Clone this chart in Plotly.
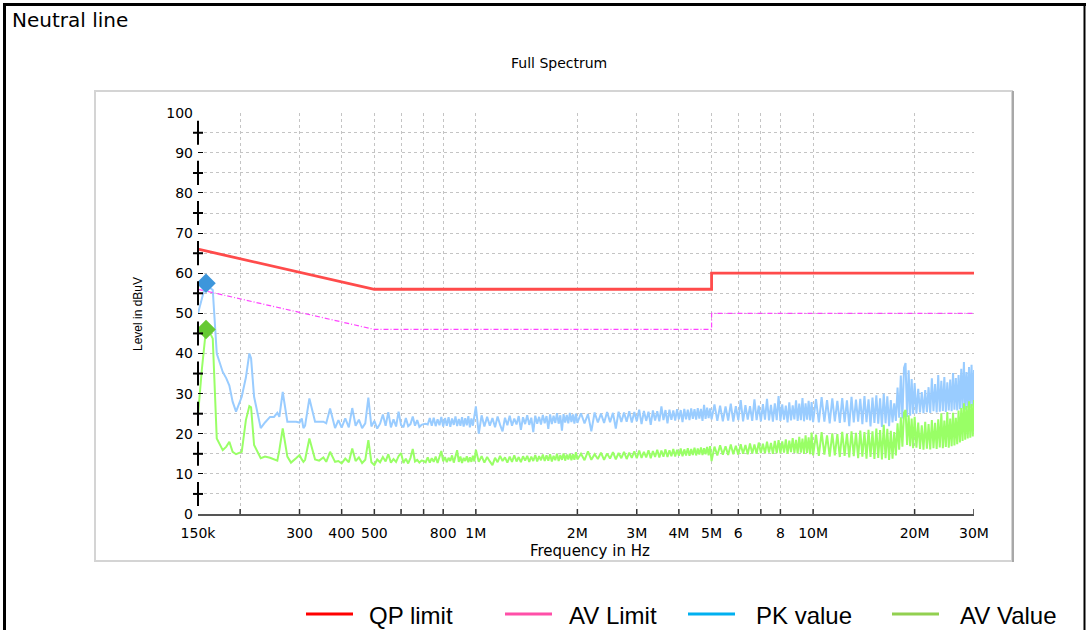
import plotly.graph_objects as go

# ---------------- data ----------------
# frequency points in MHz, readings in dBuV
freq_low = [0.150, 0.154, 0.1584, 0.162, 0.1659, 0.1705, 0.1776, 0.182, 0.1858, 0.190,
            0.1945, 0.2022, 0.208, 0.213, 0.2155, 0.220, 0.2302, 0.237, 0.2453, 0.252,
            0.2578, 0.2614, 0.2675, 0.2761, 0.283, 0.293, 0.300, 0.3047, 0.3081, 0.3116,
            0.3209, 0.3336, 0.343, 0.3531, 0.360, 0.3696, 0.3824, 0.3912]
pk_low = [50.0, 54.0, 57.5, 56.5, 55.8, 40.0, 35.4, 33.8, 32.0, 28.0,
          25.5, 29.2, 34.0, 40.0, 38.8, 29.2, 21.4, 22.8, 24.2, 24.2,
          25.2, 24.2, 30.4, 23.0, 23.0, 23.0, 22.8, 23.8, 21.4, 22.0,
          28.8, 23.0, 23.0, 23.0, 22.6, 26.3, 21.4, 23.4]
av_low = [24.6, 36.0, 46.0, 45.5, 43.7, 18.8, 15.9, 16.8, 18.0, 15.5,
          14.9, 15.5, 23.4, 26.9, 26.6, 17.2, 13.9, 14.3, 14.0, 13.6,
          13.3, 15.9, 21.3, 14.3, 12.8, 13.9, 14.7, 13.6, 13.0, 13.5,
          18.8, 13.6, 13.3, 14.1, 13.0, 15.5, 13.0, 13.2]

freq_a = [0.40, 0.41, 0.42, 0.43, 0.44, 0.45, 0.46, 0.47, 0.48, 0.49,
          0.50, 0.51, 0.52, 0.53, 0.54, 0.55, 0.56, 0.57, 0.58, 0.59,
          0.60, 0.61, 0.62, 0.63, 0.64, 0.65, 0.66, 0.67, 0.68, 0.69,
          0.70, 0.71, 0.72, 0.73, 0.74, 0.75, 0.76, 0.77, 0.78, 0.79,
          0.80, 0.81, 0.82, 0.83, 0.84, 0.85, 0.86, 0.87, 0.88, 0.89,
          0.90, 0.91, 0.92, 0.93, 0.94, 0.95, 0.96, 0.97, 0.98, 0.99, 1.00]
pk_a = [21.5, 23.8, 21.6, 26.4, 22.0, 23.5, 21.4, 22.6, 29.0, 21.8,
        23.2, 21.3, 22.5, 24.8, 22.0, 25.4, 21.6, 23.6, 21.8, 25.5,
        22.2, 21.6, 23.9, 21.9, 22.4, 24.3, 22.0, 23.4, 21.7, 22.2,
        22.4, 22.5, 22.3, 23.9, 22.0, 24.0, 21.9, 23.6, 22.1, 24.2,
        21.8, 23.9, 22.0, 24.1, 21.7, 23.8, 22.2, 24.3, 21.9, 23.7,
        22.0, 24.1, 21.8, 23.9, 22.1, 24.4, 21.6, 23.8, 22.0, 24.0, 26.8]
av_a = [12.6, 13.8, 12.9, 16.3, 13.2, 14.1, 12.7, 13.5, 18.4, 12.9,
        12.2, 13.6, 12.9, 14.2, 13.1, 14.9, 12.8, 13.7, 13.0, 14.4,
        15.2, 12.7, 13.8, 12.6, 14.0, 16.2, 13.1, 13.5, 12.8, 13.3,
        13.2, 12.9, 14.1, 12.8, 13.9, 13.0, 14.3, 12.7, 14.0, 15.7,
        13.1, 14.2, 12.9, 14.0, 13.2, 14.6, 12.8, 14.1, 15.9, 13.0,
        14.3, 12.7, 14.0, 13.2, 14.4, 12.9, 14.1, 13.0, 14.5, 13.1, 16.0]

freq_b = [1.02, 1.04, 1.06, 1.08, 1.10, 1.12, 1.14, 1.16, 1.18, 1.20,
          1.22, 1.24, 1.26, 1.28, 1.30, 1.32, 1.34, 1.36, 1.38, 1.40,
          1.42, 1.44, 1.46, 1.48, 1.50, 1.52, 1.54, 1.56, 1.58, 1.60,
          1.62, 1.64, 1.66, 1.68, 1.70, 1.72, 1.74, 1.76, 1.78, 1.80,
          1.82, 1.84, 1.86, 1.88, 1.90, 1.92, 1.94, 1.96, 1.98, 2.00]
pk_b = [20.0, 24.6, 21.8, 24.2, 22.0, 23.9, 21.6, 24.3, 22.2, 20.6,
        24.0, 22.1, 24.5, 22.0, 23.8, 22.3, 24.4, 21.0, 24.1, 22.4,
        24.6, 22.2, 24.0, 20.4, 24.5, 22.5, 24.2, 22.3, 24.7, 22.6,
        24.4, 21.2, 24.8, 22.4, 24.5, 22.7, 25.1, 22.5, 24.6, 20.8,
        24.9, 22.8, 24.7, 22.6, 25.2, 22.9, 24.8, 22.5, 25.0, 22.7]
av_b = [13.0, 14.4, 12.8, 14.2, 13.1, 12.2, 14.0, 12.9, 14.5, 13.2,
        14.1, 12.8, 14.3, 13.0, 14.6, 13.1, 14.2, 12.9, 14.4, 13.3,
        14.5, 13.0, 14.3, 13.2, 14.7, 13.1, 14.4, 13.4, 14.8, 13.2,
        14.6, 13.3, 14.9, 13.1, 14.5, 13.4, 15.0, 13.2, 14.7, 13.5,
        15.1, 13.3, 14.8, 13.6, 15.0, 13.4, 14.9, 13.5, 15.4, 13.6]

freq_c = [2.05, 2.10, 2.15, 2.20, 2.25, 2.30, 2.35, 2.40, 2.45, 2.50,
          2.55, 2.60, 2.65, 2.70, 2.75, 2.80, 2.85, 2.90, 2.95, 3.00,
          3.05, 3.10, 3.15, 3.20, 3.25, 3.30, 3.35, 3.40, 3.45, 3.50,
          3.55, 3.60, 3.65, 3.70, 3.75, 3.80, 3.85, 3.90, 3.95, 4.00,
          4.05, 4.10, 4.15, 4.20, 4.25, 4.30, 4.35, 4.40, 4.45, 4.50,
          4.55, 4.60, 4.65, 4.70, 4.75, 4.80, 4.85, 4.90, 4.95, 5.00]
pk_c = [25.1, 22.6, 24.9, 20.6, 25.3, 22.8, 25.0, 22.7, 25.4, 22.9,
        25.2, 21.3, 25.5, 22.9, 25.3, 23.0, 25.6, 22.8, 25.4, 23.1,
        26.0, 22.4, 25.7, 23.2, 25.5, 22.2, 25.8, 23.3, 25.6, 23.1,
        26.8, 23.4, 25.9, 22.6, 26.0, 23.5, 25.8, 23.3, 26.1, 23.6,
        25.9, 22.9, 26.2, 23.6, 26.0, 23.4, 26.3, 23.7, 26.1, 23.5,
        26.4, 23.8, 26.2, 23.2, 27.2, 23.7, 26.5, 23.9, 26.3, 23.6]
av_c = [15.0, 13.4, 15.6, 13.5, 14.9, 13.7, 15.3, 13.5, 15.1, 13.8,
        15.4, 13.6, 15.2, 13.9, 15.5, 13.7, 15.3, 14.0, 15.6, 13.9,
        15.8, 14.0, 15.5, 14.1, 15.9, 13.9, 15.7, 14.2, 16.0, 14.1,
        15.8, 14.3, 16.1, 14.2, 15.9, 14.4, 16.2, 14.3, 16.0, 14.5,
        16.3, 14.4, 16.1, 14.6, 16.4, 14.5, 16.2, 14.7, 16.5, 14.6,
        16.3, 14.8, 16.6, 14.7, 16.4, 14.9, 16.7, 14.6, 16.9, 13.2]

freq_d = [5.1, 5.2, 5.3, 5.4, 5.5, 5.6, 5.7, 5.8, 5.9, 6.0,
          6.1, 6.2, 6.3, 6.4, 6.5, 6.6, 6.7, 6.8, 6.9, 7.0,
          7.1, 7.2, 7.3, 7.4, 7.5, 7.6, 7.7, 7.8, 7.9, 8.0,
          8.1, 8.2, 8.3, 8.4, 8.5, 8.6, 8.7, 8.8, 8.9, 9.0,
          9.1, 9.2, 9.3, 9.4, 9.5, 9.6, 9.7, 9.8, 9.9, 10.0]
pk_d = [27.3, 23.2, 27.0, 23.1, 26.8, 23.3, 27.5, 23.0, 26.9, 23.4,
        28.4, 23.1, 27.1, 23.5, 26.9, 23.2, 28.6, 23.4, 27.0, 23.1,
        27.4, 23.5, 28.7, 23.3, 27.2, 23.0, 27.6, 23.4, 29.4, 23.2,
        27.3, 23.5, 27.0, 22.8, 27.8, 23.3, 27.1, 23.6, 28.3, 23.2,
        27.5, 23.4, 28.9, 23.1, 27.6, 23.5, 28.2, 23.3, 27.9, 22.9]
av_d = [16.8, 14.6, 17.1, 14.8, 16.9, 14.7, 17.3, 14.9, 17.0, 14.8,
        17.4, 15.0, 17.2, 14.9, 17.6, 15.1, 17.3, 15.0, 17.8, 15.2,
        17.5, 15.1, 18.0, 15.3, 17.7, 15.0, 18.2, 15.2, 18.4, 15.1,
        18.1, 15.3, 18.6, 15.0, 18.3, 15.4, 18.9, 15.2, 18.5, 15.1,
        19.2, 15.3, 18.8, 15.0, 19.6, 15.2, 19.1, 14.9, 20.3, 14.6]

freq_e = [10.2, 10.4, 10.6, 10.8, 11.0, 11.2, 11.4, 11.6, 11.8, 12.0,
          12.2, 12.4, 12.6, 12.8, 13.0, 13.2, 13.4, 13.6, 13.8, 14.0,
          14.2, 14.4, 14.6, 14.8, 15.0, 15.2, 15.4, 15.6, 15.8, 16.0,
          16.2, 16.4, 16.6, 16.8, 17.0, 17.2, 17.4, 17.6, 17.8, 18.0,
          18.2, 18.4, 18.6, 18.8, 19.0, 19.2, 19.4, 19.6, 19.8, 20.0]
pk_e = [28.6, 22.8, 29.1, 23.0, 28.4, 22.6, 28.8, 23.1, 28.2, 22.7,
        28.9, 22.9, 28.3, 21.9, 29.2, 22.8, 28.5, 23.0, 28.7, 22.4,
        29.4, 22.9, 28.6, 21.8, 29.0, 22.7, 29.6, 22.5, 28.8, 21.7,
        30.0, 22.6, 29.3, 21.9, 28.4, 22.8, 27.6, 23.2, 31.5, 24.0,
        34.5, 23.8, 36.4, 37.6, 24.2, 35.8, 24.5, 33.6, 24.9, 32.6]
av_e = [19.8, 14.5, 20.4, 14.8, 19.6, 14.3, 20.1, 14.6, 19.9, 14.2,
        20.5, 14.5, 20.0, 14.1, 20.6, 14.4, 20.2, 13.9, 20.8, 14.3,
        20.4, 13.8, 21.0, 14.2, 20.6, 13.7, 21.3, 14.0, 20.9, 13.6,
        22.2, 13.9, 21.2, 13.5, 20.7, 13.8, 20.4, 14.6, 22.6, 16.0,
        24.1, 16.8, 25.2, 25.9, 17.2, 24.6, 16.9, 23.8, 16.4, 24.2]

freq_f = [20.25, 20.50, 20.75, 21.00, 21.25, 21.50, 21.75, 22.00, 22.25, 22.50,
          22.75, 23.00, 23.25, 23.50, 23.75, 24.00, 24.25, 24.50, 24.75, 25.00,
          25.25, 25.50, 25.75, 26.00, 26.25, 26.50, 26.75, 27.00, 27.25, 27.50,
          27.75, 28.00, 28.25, 28.50, 28.75, 29.00, 29.25, 29.50, 29.75, 30.00]
pk_f = [25.0, 31.2, 25.3, 30.4, 25.1, 30.9, 25.4, 31.6, 25.2, 33.8,
        25.6, 32.4, 25.3, 34.6, 25.5, 33.2, 25.7, 34.1, 25.4, 32.8,
        25.8, 33.5, 25.6, 35.1, 26.0, 33.9, 25.8, 34.6, 26.1, 36.2,
        26.3, 37.9, 26.0, 35.4, 26.5, 36.6, 26.4, 37.2, 26.8, 35.9]
av_f = [16.5, 22.8, 16.2, 22.1, 16.0, 23.0, 16.3, 22.4, 16.1, 23.4,
        16.4, 22.7, 16.2, 23.6, 16.6, 25.1, 16.4, 23.3, 16.7, 25.4,
        16.5, 23.8, 16.9, 25.2, 17.1, 24.0, 17.4, 25.8, 17.8, 26.4,
        18.2, 27.6, 18.5, 26.9, 18.8, 28.1, 19.0, 27.4, 19.3, 28.4]

# limit lines
limit_freq = [0.15, 0.5, 5.0, 5.0, 30.0]
qp_limit = [66.0, 56.0, 56.0, 60.0, 60.0]
av_limit = [56.0, 46.0, 46.0, 50.0, 50.0]

# marked final readings
mark_freq = [0.1584]
mark_pk = [57.5]
mark_av = [46.0]

# axis ticks
tick_freq = [0.15, 0.2, 0.3, 0.4, 0.5, 0.6, 0.7, 0.8, 1.0, 2.0, 3.0, 4.0, 5.0, 6.0, 7.0, 8.0, 10.0, 20.0, 30.0]
tick_text = ["150k", "", "300", "400", "500", "", "", "800", "1M", "2M", "3M", "4M", "5M", "6", "", "8", "10M", "20M", "30M"]
y_minor = [5, 15, 25, 35, 45, 55, 65, 75, 85, 95]

legend_labels = ["QP limit", "AV Limit", "PK value", "AV Value"]
legend_colors = ["#ff0000", "#ff4fa8", "#00b0f0", "#92d050"]

freq = freq_low + freq_a + freq_b + freq_c + freq_d + freq_e + freq_f
pk = pk_low + pk_a + pk_b + pk_c + pk_d + pk_e + pk_f
av = av_low + av_a + av_b + av_c + av_d + av_e + av_f
assert len(freq) == len(pk) == len(av), (len(freq), len(pk), len(av))

# ---------------- figure ----------------
W, H = 1090, 630
def px(x):
    return x / W
def py(y):
    return 1 - y / H

X0, X1, Y0, Y1 = 198, 974, 514, 112.7
GRID = "#c4c4c4"
TICKFONT = dict(family="DejaVu Sans, Verdana, sans-serif", size=14, color="#000000")

fig = go.Figure()
fig.add_trace(go.Scatter(x=freq, y=pk, mode="lines", line=dict(color="#99ccff", width=2),
                         name="PK value", showlegend=False))
fig.add_trace(go.Scatter(x=freq, y=av, mode="lines", line=dict(color="#99ff66", width=2),
                         name="AV Value", showlegend=False))
fig.add_trace(go.Scatter(x=limit_freq, y=qp_limit, mode="lines", line=dict(color="#ff4b4b", width=2.8),
                         name="QP limit", showlegend=False))
fig.add_trace(go.Scatter(x=limit_freq, y=av_limit, mode="lines",
                         line=dict(color="#ff44ff", width=1.2, dash="5px,2px,1px,2px"),
                         name="AV Limit", showlegend=False))
fig.add_trace(go.Scatter(x=mark_freq, y=mark_pk, mode="markers",
                         marker=dict(symbol="diamond", size=15, color="#3d96db"), showlegend=False))
fig.add_trace(go.Scatter(x=mark_freq, y=mark_av, mode="markers",
                         marker=dict(symbol="diamond", size=15, color="#66c933"), showlegend=False))

shapes = []
# outer black frame
shapes.append(dict(type="line", xref="paper", yref="paper", x0=px(3), x1=px(1086), y0=py(4.5), y1=py(4.5),
                   line=dict(color="#000000", width=3)))
shapes.append(dict(type="line", xref="paper", yref="paper", x0=px(4.5), x1=px(4.5), y0=py(3), y1=py(632),
                   line=dict(color="#000000", width=3)))
shapes.append(dict(type="line", xref="paper", yref="paper", x0=px(1084.5), x1=px(1084.5), y0=py(3), y1=py(632),
                   line=dict(color="#000000", width=2)))
# inner grey chart frame
shapes.append(dict(type="rect", xref="paper", yref="paper", x0=px(95), x1=px(1012), y0=py(561), y1=py(91),
                   line=dict(color="#d4d4d4", width=2)))
shapes.append(dict(type="line", xref="paper", yref="paper", x0=px(1013), x1=px(1013), y0=py(562), y1=py(91),
                   line=dict(color="#a8a8a8", width=2)))
# x-axis crossing ticks
for f in tick_freq[1:]:
    shapes.append(dict(type="line", xref="x", yref="y", x0=f, x1=f, ysizemode="pixel", yanchor=0,
                       y0=-5, y1=5, line=dict(color="#333333", width=1.5)))
# y-axis broken axis segments with crosses
for v in y_minor:
    shapes.append(dict(type="line", xref="x domain", yref="y", x0=0, x1=0, y0=v - 3, y1=v + 3,
                       line=dict(color="#000000", width=2)))
    shapes.append(dict(type="line", xref="x domain", yref="y", xsizemode="pixel", xanchor=0, x0=-5, x1=5,
                       y0=v, y1=v, line=dict(color="#000000", width=2)))
# manual legend lines
leg_line_x = [306, 505, 688, 892]
leg_text_x = [367, 567, 754, 958]
for lx, c in zip(leg_line_x, legend_colors):
    shapes.append(dict(type="line", xref="paper", yref="paper", x0=px(lx), x1=px(lx + 47), y0=py(614), y1=py(614),
                       line=dict(color=c, width=3)))

annotations = [
    dict(text="Neutral line", x=px(10), y=py(20), xref="paper", yref="paper", xanchor="left", yanchor="middle",
         showarrow=False, font=dict(family="DejaVu Sans, sans-serif", size=20, color="#000000")),
    dict(text="Full Spectrum", x=px(559), y=py(63), xref="paper", yref="paper", xanchor="center", yanchor="middle",
         showarrow=False, font=dict(family="DejaVu Sans, sans-serif", size=14, color="#000000")),
    dict(text="Frequency in Hz", x=px(590), y=py(551), xref="paper", yref="paper", xanchor="center", yanchor="middle",
         showarrow=False, font=dict(family="DejaVu Sans, sans-serif", size=15, color="#000000")),
    dict(text="Level in dBuV", x=px(138), y=py(314), xref="paper", yref="paper", xanchor="center", yanchor="middle",
         textangle=-90, showarrow=False, font=dict(family="Liberation Sans, Arial, sans-serif", size=12, color="#000000")),
]
for tx, lab in zip(leg_text_x, legend_labels):
    annotations.append(dict(text=lab, x=px(tx), y=py(615), xref="paper", yref="paper", xanchor="left",
                            yanchor="middle", showarrow=False,
                            font=dict(family="Liberation Sans, Arial, sans-serif", size=24, color="#000000")))

fig.update_layout(
    width=W, height=H,
    margin=dict(l=0, r=0, t=0, b=0),
    paper_bgcolor="#ffffff", plot_bgcolor="#ffffff",
    showlegend=False,
    shapes=shapes,
    annotations=annotations,
    xaxis=dict(type="log", domain=[px(X0), px(X1)], range=[-0.823909, 1.477121],
               tickmode="array", tickvals=tick_freq, ticktext=tick_text,
               ticks="", tickfont=TICKFONT, ticklabelstandoff=5,
               showgrid=True, gridcolor=GRID, griddash="dot", gridwidth=1,
               showline=True, linecolor="#555555", linewidth=1.5, zeroline=False, automargin=False),
    yaxis=dict(domain=[py(Y0), py(Y1)], range=[0, 100], tickmode="linear", tick0=0, dtick=10,
               ticks="inside", ticklen=5, tickcolor="#000000", tickwidth=1.2, tickfont=TICKFONT,
               ticklabelstandoff=4,
               showgrid=True, gridcolor=GRID, griddash="dot", gridwidth=1,
               minor=dict(dtick=5, tick0=0, showgrid=True, gridcolor=GRID, griddash="dot", gridwidth=1, ticks=""),
               showline=False, zeroline=False, automargin=False),
)

fig.write_html("out.html", config={"displayModeBar": False},
               post_script="document.body.style.margin='0px';document.body.style.overflow='hidden';")
